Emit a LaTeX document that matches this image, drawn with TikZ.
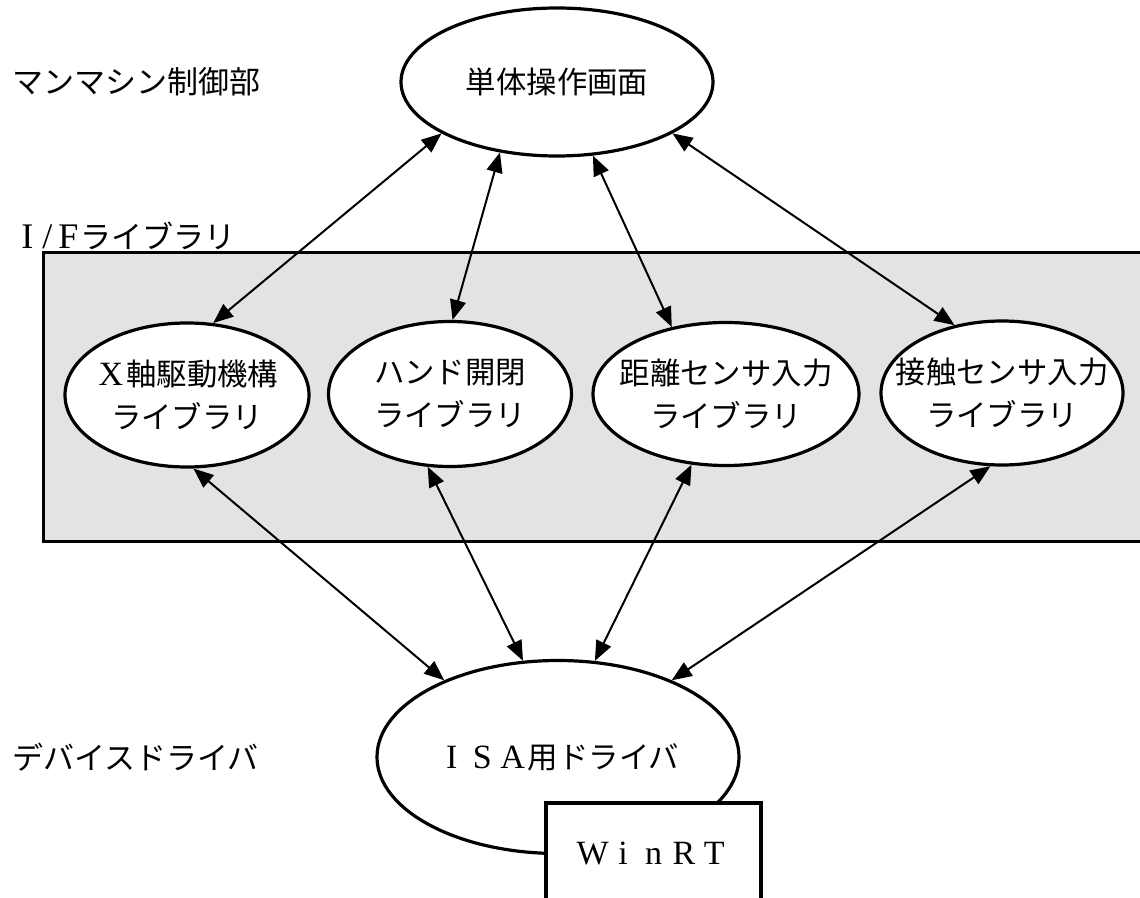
\documentclass[tikz,border=0pt]{standalone}
\usepackage{fontspec}
\setmainfont{Liberation Serif}
\newfontfamily\jp{Noto Sans CJK JP}
\newfontfamily\lat{Liberation Serif}
\usetikzlibrary{shapes.geometric,arrows.meta}
\newcommand\fw[1]{\makebox[1em]{\lat\fontsize{17}{17}\selectfont #1}}
\begin{document}
\begin{tikzpicture}[x=0.5pt,y=-0.5pt,
  txt/.style={font=\jp\fontsize{15.2}{21.5}\selectfont, align=center, inner sep=0pt},
  ell/.style={ellipse, draw, line width=1.6pt, fill=white, inner sep=0pt},
  arr/.style={{Triangle[length=10pt,width=8pt]}-{Triangle[length=10pt,width=8pt]}, line width=1pt},
  lbl/.style={font=\jp\fontsize{15.5}{18}\selectfont, anchor=west, inner sep=0pt}]
\clip (0,0) rectangle (1140,898);
% I/F band
\node[draw, line width=1.3pt, fill=black!11, anchor=north west, inner sep=0pt,
      minimum width=569pt, minimum height=144.5pt] (band) at (42,251) {};
% layer labels
\node[lbl] (lmm) at (12,82) {マンマシン制御部};
\node[lbl] (lif) at (16,236) {\makebox[11pt]{\lat\fontsize{18}{18}\selectfont I}\makebox[9pt]{\lat\fontsize{18}{18}\selectfont /}\makebox[12pt]{\lat\fontsize{18}{18}\selectfont F}ライブラリ};
\node[lbl] (ldd) at (12,757) {デバイスドライバ};
% ellipses
\node[ell, minimum width=156pt, minimum height=74pt, label={[txt]center:{単体操作画面}}] (ntop) at (557,82) {};
\node[ell, minimum width=122pt, minimum height=72pt, label={[txt]center:{\fw{X}軸駆動機構\\ライブラリ}}] (e1) at (187,395) {};
\node[ell, minimum width=121.5pt, minimum height=72.5pt, label={[txt]center:{ハンド開閉\\ライブラリ}}] (e2) at (450,394) {};
\node[ell, minimum width=133pt, minimum height=71.5pt, label={[txt]center:{距離センサ入力\\ライブラリ}}] (e3) at (726,394) {};
\node[ell, minimum width=121pt, minimum height=72pt, label={[txt]center:{接触センサ入力\\ライブラリ}}] (e4) at (1002,393) {};
\node[ell, minimum width=181pt, minimum height=96.5pt, label={[txt]center:{\fw{I}\fw{S}\fw{A}用ドライバ}}] (bot) at (558,757) {};
% WinRT box
\node[draw, line width=1.6pt, fill=white, inner sep=0pt, minimum width=107.5pt, minimum height=50pt,
      font=\jp\fontsize{15.2}{18}\selectfont] (winrt) at (653.5,853) {\fw{W}\fw{i}\fw{n}\fw{R}\fw{T}};
% connectors
\draw[arr] (ntop.204) -- (e1.70);
\draw[arr] (ntop.231) -- (e2.88);
\draw[arr] (ntop.296) -- (e3.129);
\draw[arr] (ntop.336) -- (e4.125);
\draw[arr] (e1.275) -- (bot.146);
\draw[arr] (e2.253) -- (bot.110);
\draw[arr] (e3.244) -- (bot.69);
\draw[arr] (e4.261) -- (bot.34.5);
\end{tikzpicture}
\end{document}
